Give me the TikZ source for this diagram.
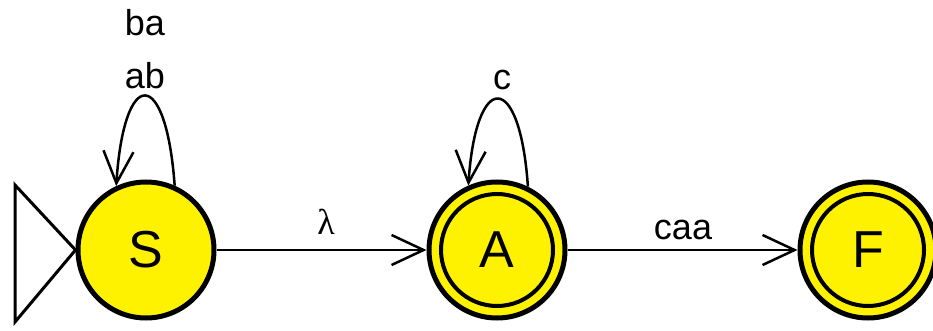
\documentclass[tikz,border=0pt]{standalone}
\usepackage{fontspec}
\setmainfont{Liberation Sans}
\newfontfamily\lamfont{Liberation Serif}
\usetikzlibrary{arrows.meta}
\begin{document}
\begin{tikzpicture}[x=1pt,y=-1pt,
  state/.style={circle,draw=black,line width=5pt,fill=yellow,minimum size=136pt,inner sep=0pt,font=\fontsize{52}{58}\selectfont},
  ring/.style={circle,draw=black,line width=4pt,minimum size=112pt,inner sep=0pt},
  edge/.style={line width=2.5pt,-{Straight Barb[length=32pt,width=30pt,line width=2.5pt]}},
  lbl/.style={font=\fontsize{36}{40}\selectfont,inner sep=0pt}]
\useasboundingbox (0,0) rectangle (933,331);
\node[state] (S) at (146,250) {S};
\node[state] (A) at (497,250) {A};
\node[ring] (Ai) at (497,250) {};
\node[state] (F) at (868,250) {F};
\node[ring] (Fi) at (868,250) {};
% initial triangle
\coordinate (t1) at (15,185);
\coordinate (t2) at (15,322);
\draw[line width=3pt,line join=miter] (t1) -- (S.west) -- (t2) -- cycle;
% loops
\draw[edge] (S.66) .. controls (166,66) and (124,66) .. (S.115);
\draw[edge] (A.64) .. controls (520,70) and (476,70) .. (A.114);
% edges
\draw[edge] (S) -- (A);
\draw[edge] (A) -- (F);
% labels
\node[lbl] (lba) at (145,23) {ba};
\node[lbl] (lab) at (145,76) {ab};
\node[lbl] (lc) at (502,80) {c};
\node[lbl,font=\lamfont\fontsize{36}{40}\selectfont] (llam) at (326,222) {λ};
\node[lbl] (lcaa) at (683,230) {caa};
\end{tikzpicture}
\end{document}
